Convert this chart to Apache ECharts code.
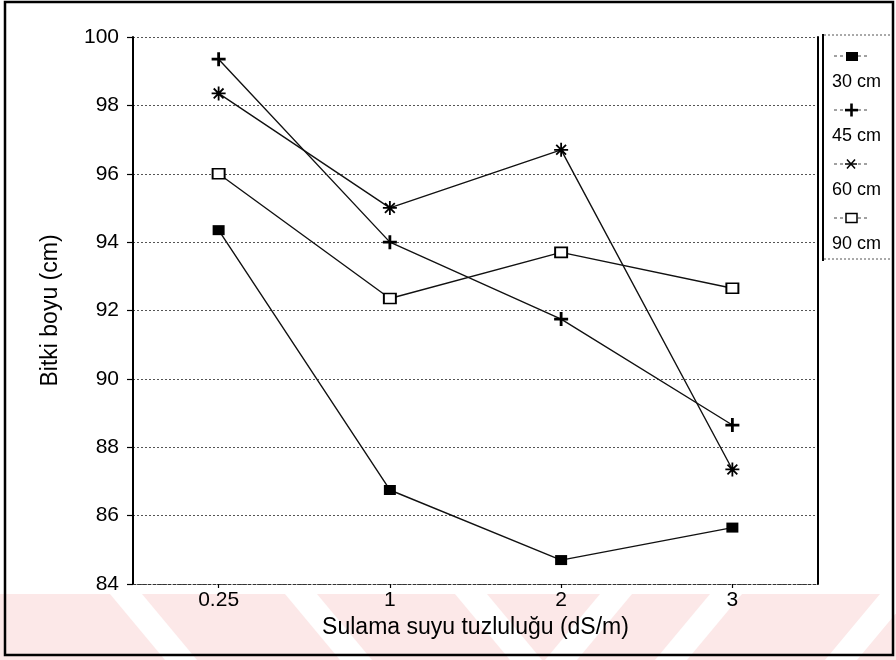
<!DOCTYPE html>
<html>
<head>
<meta charset="utf-8">
<script src="https://cdn.jsdelivr.net/npm/echarts@6/dist/echarts.min.js"></script>
<style>
  html, body { margin: 0; padding: 0; background: #fff; }
  #chart { width: 896px; height: 660px; }
</style>
</head>
<body>
<div id="chart"></div>
<script>
// Plant height by irrigation water salinity, for four depths
const salinity = ['0.25', '1', '2', '3'];
const depthNames = ['30 cm', '45 cm', '60 cm', '90 cm'];
const height30 = [94.35, 86.75, 84.7, 85.65];
const height45 = [99.35, 94.0, 91.75, 88.65];
const height60 = [98.35, 95.0, 96.7, 87.35];
const height90 = [96.0, 92.35, 93.7, 92.65];
const yTicks = [84, 86, 88, 90, 92, 94, 96, 98, 100];

const seriesValues = [height30, height45, height60, height90];

const FONT = 'Liberation Sans, Arial, Helvetica, sans-serif';
const INK = '#000';

// marker shapes per depth
const plusPath = 'path://M4,0H6V4H10V6H6V10H4V6H0V4H4Z';
const starPath = 'path://M0,5H10M5,0V10M1.5,1.5L8.5,8.5M8.5,1.5L1.5,8.5';
const markers = [
  { symbol: 'rect', size: [12, 10], style: { color: INK, borderColor: INK, borderWidth: 0 } },
  { symbol: plusPath, size: 14, style: { color: INK, borderColor: INK, borderWidth: 0 } },
  { symbol: starPath, size: 14, style: { color: INK, borderColor: INK, borderWidth: 1.8 } },
  { symbol: 'rect', size: [12, 10], style: { color: '#fff', borderColor: INK, borderWidth: 1.8 } }
];

const series = depthNames.map((name, i) => ({
  name: name,
  type: 'line',
  data: seriesValues[i],
  symbol: markers[i].symbol,
  symbolSize: markers[i].size,
  itemStyle: markers[i].style,
  lineStyle: { color: '#111', width: 1.4 },
  z: 3 + i,
  animation: false
}));

// faint striped band along the bottom of the page
const bandTop = 594, bandBottom = 660, slant = 55, gap = 32;
const stripes = [{ type: 'rect', shape: { x: 0, y: bandTop, width: 896, height: bandBottom - bandTop },
  style: { fill: '#fce8e8' }, z: -10 }];
[110, 285, 455].forEach(x => stripes.push({
  type: 'polygon', z: -9,
  shape: { points: [[x, bandTop], [x + gap, bandTop], [x + gap + slant, bandBottom], [x + slant, bandBottom]] },
  style: { fill: '#fff' }
}));
[600, 710, 880].forEach(x => stripes.push({
  type: 'polygon', z: -9,
  shape: { points: [[x, bandTop], [x + gap, bandTop], [x + gap - slant, bandBottom], [x - slant, bandBottom]] },
  style: { fill: '#fff' }
}));

// key box on the right-hand side
const key = [];
key.push({ type: 'line', shape: { x1: 823, y1: 34, x2: 823, y2: 261 }, style: { stroke: INK, lineWidth: 2 }, z: 20 });
key.push({ type: 'line', shape: { x1: 824, y1: 35, x2: 892, y2: 35 }, style: { stroke: '#555', lineWidth: 1, lineDash: [2, 2] }, z: 20 });
key.push({ type: 'line', shape: { x1: 824, y1: 259, x2: 892, y2: 259 }, style: { stroke: '#555', lineWidth: 1, lineDash: [2, 2] }, z: 20 });
depthNames.forEach((name, i) => {
  const cy = 56 + i * 54;
  key.push({ type: 'line', shape: { x1: 834, y1: cy, x2: 868, y2: cy }, style: { stroke: '#444', lineWidth: 1, lineDash: [3, 3] }, z: 20 });
  if (i === 0) {
    key.push({ type: 'rect', shape: { x: 846, y: cy - 4, width: 12, height: 9 }, style: { fill: INK }, z: 21 });
  } else if (i === 1) {
    key.push({ type: 'rect', shape: { x: 845, y: cy - 1.2, width: 13, height: 2.6 }, style: { fill: INK }, z: 22 });
    key.push({ type: 'rect', shape: { x: 850.2, y: cy - 6.5, width: 2.6, height: 13 }, style: { fill: INK }, z: 22 });
  } else if (i === 2) {
    key.push({ type: 'rect', shape: { x: 844, y: cy - 5, width: 14, height: 10 }, style: { fill: '#fff' }, z: 21 });
    [[845, cy, 857, cy], [847, cy - 4.5, 855, cy + 4.5], [855, cy - 4.5, 847, cy + 4.5]].forEach(p =>
      key.push({ type: 'line', shape: { x1: p[0], y1: p[1], x2: p[2], y2: p[3] }, style: { stroke: INK, lineWidth: 1.5 }, z: 22 }));
  } else {
    key.push({ type: 'rect', shape: { x: 846, y: cy - 4.5, width: 11, height: 9 }, style: { fill: '#fff', stroke: INK, lineWidth: 1.5 }, z: 21 });
  }
  key.push({ type: 'text', x: 832, y: cy + 26, z: 21,
    style: { text: name, font: '18px ' + FONT, fill: INK, verticalAlign: 'middle', align: 'left' } });
});

// outer frame
const frame = { type: 'rect', shape: { x: 5, y: 2, width: 888, height: 653 },
  style: { fill: 'none', stroke: INK, lineWidth: 2.5 }, z: 30 };

const chart = echarts.init(document.getElementById('chart'), null, { renderer: 'canvas' });
chart.setOption({
  backgroundColor: '#fff',
  animation: false,
  grid: { left: 133, right: 78, top: 37, bottom: 76 },
  xAxis: {
    type: 'category',
    data: salinity,
    boundaryGap: true,
    name: 'Sulama suyu tuzluluğu (dS/m)',
    nameLocation: 'middle',
    nameGap: 30,
    nameTextStyle: { fontFamily: FONT, fontSize: 23, color: INK },
    axisLine: { show: true, lineStyle: { color: '#333', width: 1, type: [3, 2] } },
    axisTick: { show: true, alignWithLabel: true, length: 4, lineStyle: { color: INK, width: 1.2 } },
    axisLabel: { fontFamily: FONT, fontSize: 21, color: INK, margin: 6 },
    splitLine: { show: false }
  },
  yAxis: [{
    type: 'value',
    min: 84,
    max: 100,
    interval: 2,
    name: 'Bitki boyu (cm)',
    nameLocation: 'middle',
    nameGap: 71,
    nameRotate: 90,
    nameTextStyle: { fontFamily: FONT, fontSize: 23, color: INK },
    axisLine: { show: true, lineStyle: { color: INK, width: 2 } },
    axisTick: { show: true, length: 6, lineStyle: { color: INK, width: 1.2 } },
    axisLabel: {
      fontFamily: FONT, fontSize: 21, color: INK, margin: 14,
      formatter: v => (yTicks.includes(v) ? String(v) : '')
    },
    splitLine: { show: true, lineStyle: { color: '#555', width: 1, type: [2, 2] } }
  }, {
    type: 'value',
    position: 'right',
    min: 84,
    max: 100,
    interval: 2,
    axisLine: { show: true, lineStyle: { color: INK, width: 2 } },
    axisTick: { show: false },
    axisLabel: { show: false },
    splitLine: { show: false }
  }],
  series: series,
  graphic: stripes.concat(key, [frame])
});
</script>
</body>
</html>
